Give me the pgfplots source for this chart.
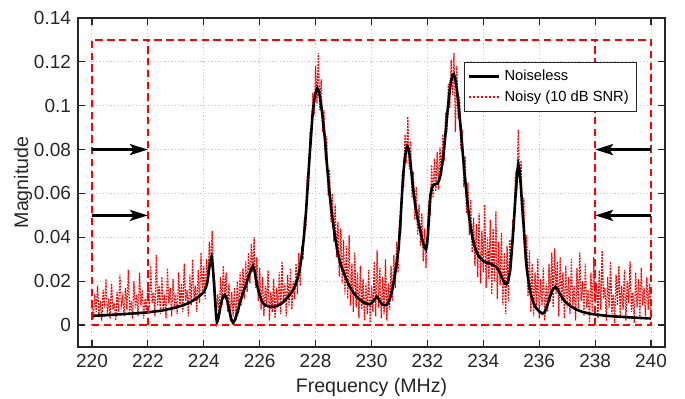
\documentclass[border=0pt]{standalone}
\usepackage{fontspec}
\setmainfont{Liberation Sans}
\usepackage{pgfplots}
\usepackage{pgfplotstable}
\pgfplotsset{compat=1.18}
\usetikzlibrary{arrows.meta}
\definecolor{axgray}{RGB}{38,38,38}
\definecolor{mred}{RGB}{255,0,0}

\pgfplotstableread{
f v
220.0 0.0042
220.5 0.0045
221.0 0.0049
221.5 0.0053
222.0 0.0058
222.5 0.0066
223.0 0.0080
223.3 0.0092
223.5 0.0103
223.7 0.0118
223.9 0.0138
224.0 0.0150
224.1 0.0180
224.15 0.0215
224.2 0.0265
224.25 0.0300
224.28 0.0310
224.32 0.0270
224.36 0.0200
224.4 0.0120
224.44 0.0045
224.47 0.0012
224.5 0.0020
224.55 0.0050
224.6 0.0085
224.65 0.0115
224.7 0.0132
224.75 0.0138
224.8 0.0128
224.85 0.0105
224.9 0.0075
224.95 0.0045
225.0 0.0020
225.05 0.0010
225.1 0.0020
225.2 0.0055
225.3 0.0105
225.4 0.0145
225.5 0.0180
225.6 0.0220
225.7 0.0255
225.76 0.0270
225.82 0.0245
225.9 0.0185
226.0 0.0135
226.1 0.0103
226.2 0.0090
226.37 0.0083
226.5 0.0084
226.64 0.0088
226.8 0.0100
226.94 0.0118
227.1 0.0142
227.24 0.0170
227.35 0.0210
227.42 0.0247
227.5 0.0310
227.58 0.0400
227.66 0.0520
227.72 0.0640
227.78 0.0760
227.84 0.0870
227.9 0.0974
227.98 0.1050
228.06 0.1080
228.12 0.1065
228.18 0.1020
228.25 0.0950
228.33 0.0853
228.4 0.0740
228.48 0.0626
228.55 0.0540
228.63 0.0459
228.7 0.0400
228.8 0.0323
228.9 0.0275
229.05 0.0224
229.2 0.0180
229.35 0.0148
229.5 0.0125
229.7 0.0103
229.85 0.0096
229.94 0.0095
230.02 0.0102
230.1 0.0115
230.19 0.0129
230.25 0.0120
230.31 0.0106
230.4 0.0094
230.48 0.0090
230.56 0.0094
230.66 0.0120
230.75 0.0165
230.84 0.0230
230.92 0.0300
230.97 0.0350
231.03 0.0460
231.09 0.0595
231.14 0.0690
231.19 0.0760
231.24 0.0800
231.28 0.0815
231.32 0.0805
231.36 0.0777
231.41 0.0720
231.46 0.0656
231.52 0.0590
231.58 0.0535
231.65 0.0485
231.72 0.0444
231.78 0.0410
231.84 0.0376
231.9 0.0355
231.95 0.0345
231.99 0.0370
232.02 0.0414
232.06 0.0500
232.11 0.0595
232.16 0.0625
232.2 0.0638
232.28 0.0642
232.35 0.0644
232.42 0.0660
232.47 0.0686
232.54 0.0740
232.6 0.0808
232.66 0.0890
232.72 0.0974
232.78 0.1050
232.84 0.1110
232.9 0.1140
232.95 0.1144
233.0 0.1120
233.05 0.1080
233.11 0.1010
233.17 0.0929
233.24 0.0820
233.32 0.0702
233.4 0.0600
233.48 0.0505
233.56 0.0435
233.65 0.0376
233.75 0.0335
233.87 0.0308
234.0 0.0292
234.1 0.0285
234.25 0.0279
234.35 0.0274
234.45 0.0266
234.53 0.0255
234.62 0.0232
234.69 0.0210
234.76 0.0192
234.82 0.0186
234.88 0.0195
234.96 0.0247
235.02 0.0340
235.08 0.0444
235.13 0.0545
235.18 0.0640
235.22 0.0705
235.25 0.0733
235.29 0.0710
235.34 0.0640
235.39 0.0540
235.44 0.0460
235.5 0.0340
235.56 0.0250
235.63 0.0190
235.7 0.0140
235.8 0.0100
235.88 0.0079
236.0 0.0062
236.12 0.0052
236.2 0.0060
236.3 0.0094
236.4 0.0135
236.48 0.0162
236.58 0.0174
236.65 0.0165
236.72 0.0147
236.84 0.0122
236.96 0.0102
237.1 0.0088
237.32 0.0071
237.55 0.0060
237.8 0.0052
238.2 0.0045
238.52 0.0041
239.0 0.0037
239.5 0.0033
240.0 0.0030
}\noiseless

\pgfplotstableread{
f v
220.00 0.009
220.05 0.003
220.10 0.014
220.15 0.006
220.20 0.018
220.25 0.004
220.30 0.011
220.35 0.002
220.40 0.016
220.45 0.008
220.50 0.021
220.55 0.005
220.60 0.012
220.65 0.003
220.70 0.019
220.75 0.007
220.80 0.010
220.85 0.002
220.90 0.015
220.95 0.006
221.00 0.023
221.05 0.009
221.10 0.013
221.15 0.004
221.20 0.017
221.25 0.007
221.30 0.025
221.35 0.005
221.40 0.011
221.45 0.003
221.50 0.020
221.55 0.008
221.60 0.014
221.65 0.004
221.70 0.024
221.75 0.009
221.80 0.016
221.85 0.003
221.90 0.012
221.95 0.006
222.00 0.019
222.05 0.008
222.10 0.027
222.15 0.010
222.20 0.015
222.25 0.004
222.30 0.032
222.35 0.009
222.40 0.018
222.45 0.005
222.50 0.022
222.55 0.007
222.60 0.014
222.65 0.003
222.70 0.026
222.75 0.010
222.80 0.017
222.85 0.004
222.90 0.021
222.95 0.009
223.00 0.013
223.05 0.005
223.10 0.024
223.15 0.008
223.20 0.019
223.25 0.006
223.30 0.028
223.35 0.011
223.40 0.016
223.45 0.004
223.50 0.023
223.55 0.009
223.60 0.030
223.65 0.012
223.70 0.018
223.75 0.006
223.80 0.025
223.85 0.010
223.90 0.033
223.95 0.014
224.00 0.027
224.05 0.012
224.10 0.030
224.15 0.019
224.20 0.038
224.25 0.026
224.30 0.043
224.35 0.024
224.40 0.019
224.45 0.005
224.50 0.014
224.55 0.003
224.60 0.022
224.65 0.009
224.70 0.027
224.75 0.012
224.80 0.024
224.85 0.006
224.90 0.019
224.95 0.002
225.00 0.015
225.05 0.004
225.10 0.017
225.15 0.002
225.20 0.020
225.25 0.006
225.30 0.024
225.35 0.009
225.40 0.026
225.45 0.012
225.50 0.029
225.55 0.015
225.60 0.033
225.65 0.019
225.70 0.037
225.75 0.024
225.80 0.040
225.85 0.017
225.90 0.031
225.95 0.011
226.00 0.026
226.05 0.007
226.10 0.022
226.15 0.004
226.20 0.018
226.25 0.009
226.30 0.025
226.35 0.002
226.40 0.015
226.45 0.006
226.50 0.021
226.55 0.003
226.60 0.017
226.65 0.008
226.70 0.024
226.75 0.005
226.80 0.029
226.85 0.010
226.90 0.019
226.95 0.004
227.00 0.023
227.05 0.009
227.10 0.026
227.15 0.007
227.20 0.020
227.25 0.012
227.30 0.028
227.35 0.014
227.40 0.033
227.45 0.018
227.50 0.036
227.55 0.030
227.60 0.049
227.65 0.044
227.70 0.068
227.75 0.063
227.80 0.088
227.85 0.082
227.90 0.106
227.95 0.096
228.00 0.118
228.05 0.101
228.10 0.124
228.15 0.098
228.20 0.112
228.25 0.088
228.30 0.098
228.35 0.075
228.40 0.086
228.45 0.059
228.50 0.071
228.55 0.047
228.60 0.060
228.65 0.038
228.70 0.055
228.75 0.031
228.80 0.047
228.85 0.022
228.90 0.044
228.95 0.019
229.00 0.039
229.05 0.014
229.10 0.036
229.15 0.012
229.20 0.041
229.25 0.009
229.30 0.028
229.35 0.006
229.40 0.033
229.45 0.008
229.50 0.024
229.55 0.003
229.60 0.027
229.65 0.007
229.70 0.021
229.75 0.002
229.80 0.019
229.85 0.005
229.90 0.025
229.95 0.001
230.00 0.018
230.05 0.006
230.10 0.029
230.15 0.004
230.20 0.034
230.25 0.008
230.30 0.026
230.35 0.003
230.40 0.022
230.45 0.005
230.50 0.030
230.55 0.002
230.60 0.019
230.65 0.007
230.70 0.027
230.75 0.011
230.80 0.032
230.85 0.017
230.90 0.038
230.95 0.024
231.00 0.047
231.05 0.042
231.10 0.069
231.15 0.063
231.20 0.087
231.25 0.074
231.30 0.095
231.35 0.071
231.40 0.084
231.45 0.058
231.50 0.070
231.55 0.048
231.60 0.063
231.65 0.041
231.70 0.055
231.75 0.036
231.80 0.051
231.85 0.029
231.90 0.044
231.95 0.026
232.00 0.045
232.05 0.057
232.10 0.050
232.15 0.073
232.20 0.058
232.25 0.076
232.30 0.061
232.35 0.079
232.40 0.062
232.45 0.081
232.50 0.068
232.55 0.087
232.60 0.075
232.65 0.097
232.70 0.088
232.75 0.110
232.80 0.099
232.85 0.121
232.90 0.105
232.95 0.124
233.00 0.088
233.05 0.118
233.10 0.094
233.15 0.104
233.20 0.080
233.25 0.089
233.30 0.063
233.35 0.077
233.40 0.051
233.45 0.065
233.50 0.041
233.55 0.057
233.60 0.033
233.65 0.049
233.70 0.027
233.75 0.046
233.80 0.022
233.85 0.051
233.90 0.019
233.95 0.043
234.00 0.024
234.05 0.055
234.10 0.017
234.15 0.040
234.20 0.021
234.25 0.048
234.30 0.014
234.35 0.044
234.40 0.020
234.45 0.052
234.50 0.012
234.55 0.038
234.60 0.018
234.65 0.042
234.70 0.009
234.75 0.033
234.80 0.005
234.85 0.036
234.90 0.011
234.95 0.039
235.00 0.027
235.05 0.048
235.10 0.043
235.15 0.070
235.20 0.061
235.25 0.089
235.30 0.066
235.35 0.075
235.40 0.047
235.45 0.058
235.50 0.029
235.55 0.041
235.60 0.013
235.65 0.034
235.70 0.006
235.75 0.028
235.80 0.004
235.85 0.024
235.90 0.007
235.95 0.030
236.00 0.003
236.05 0.021
236.10 0.009
236.15 0.026
236.20 0.002
236.25 0.019
236.30 0.006
236.35 0.028
236.40 0.011
236.45 0.033
236.50 0.008
236.55 0.035
236.60 0.014
236.65 0.029
236.70 0.004
236.75 0.031
236.80 0.010
236.85 0.024
236.90 0.003
236.95 0.027
237.00 0.008
237.05 0.022
237.10 0.005
237.15 0.030
237.20 0.009
237.25 0.018
237.30 0.002
237.35 0.026
237.40 0.007
237.45 0.033
237.50 0.011
237.55 0.020
237.60 0.004
237.65 0.028
237.70 0.008
237.75 0.016
237.80 0.001
237.85 0.024
237.90 0.006
237.95 0.031
238.00 0.010
238.05 0.019
238.10 0.003
238.15 0.025
238.20 0.007
238.25 0.034
238.30 0.012
238.35 0.017
238.40 0.002
238.45 0.022
238.50 0.008
238.55 0.029
238.60 0.005
238.65 0.014
238.70 0.001
238.75 0.023
238.80 0.009
238.85 0.027
238.90 0.004
238.95 0.018
239.00 0.007
239.05 0.025
239.10 0.002
239.15 0.020
239.20 0.010
239.25 0.029
239.30 0.006
239.35 0.015
239.40 0.001
239.45 0.024
239.50 0.008
239.55 0.021
239.60 0.003
239.65 0.026
239.70 0.009
239.75 0.017
239.80 0.004
239.85 0.022
239.90 0.007
239.95 0.019
240.00 0.005
}\noisy

\begin{document}
\begin{tikzpicture}
\begin{axis}[
  scale only axis,
  width=293.5pt, height=164.5pt,
  xmin=219.5, xmax=240.5,
  ymin=-0.01, ymax=0.14,
  xtick={220,222,...,240},
  ytick={0,0.02,0.04,0.06,0.08,0.1,0.12,0.14},
  scaled y ticks=false,
  yticklabel style={/pgf/number format/fixed, /pgf/number format/precision=2},
  xticklabel style={/pgf/number format/1000 sep={}},
  /pgf/number format/assume math mode=true,
  tick label style={font=\fontsize{9.5}{11}\selectfont, text=axgray},
  label style={font=\fontsize{9.8}{11}\selectfont, text=axgray},
  xlabel={Frequency (MHz)},
  ylabel={Magnitude},
  ylabel shift=-6pt,
  xlabel shift=-1.5pt,
  axis line style={axgray, line width=0.6pt},
  tick style={axgray, line width=0.6pt},
  major tick length=3.5pt,
  tick align=inside,
  xtick pos=both, ytick pos=both,
  grid=major,
  major grid style={black!22, line width=0.5pt, dash pattern=on 0.6pt off 1.2pt},
  legend style={at={(0.952,0.867)}, anchor=north east, draw=none, fill=none,
    font=\fontsize{7.35}{9}\selectfont, inner sep=1.8pt, row sep=-0.5pt,
    append after command={\pgfextra{}}},
  legend cell align=left,
  every axis legend/.append style={draw=axgray, line width=0.5pt, fill=white},
]
\addplot[mred, line width=0.6pt, dash pattern=on 0.9pt off 0.6pt, forget plot] table[x=f, y=v] {\noisy};
\addplot[black, line width=1.3pt,
  legend image code/.code={\draw[black, line width=1.3pt] (0pt,0pt) -- (15pt,0pt);}] table[x=f, y=v] {\noiseless};
\addlegendentry{Noiseless}
\addlegendimage{legend image code/.code={\draw[draw=mred, line width=0.9pt, dash pattern=on 1.1pt off 0.9pt] (0pt,0pt) -- (15pt,0pt);}}
\addlegendentry{Noisy (10 dB SNR)}
% red dashed frames
\addplot[mred, line width=1pt, dash pattern=on 3.7pt off 2.2pt, forget plot] coordinates {(220,0) (240,0) (240,0.13) (220,0.13) (220,0)};
\addplot[mred, line width=1pt, dash pattern=on 3.7pt off 2.2pt, forget plot] coordinates {(222,0) (222,0.13)};
\addplot[mred, line width=1pt, dash pattern=on 3.7pt off 2.2pt, forget plot] coordinates {(238,0) (238,0.13)};
% arrows
\addplot[black, line width=1.4pt, -{Stealth[length=9pt,width=5.5pt,inset=2pt]}, forget plot] coordinates {(220,0.08) (222,0.08)};
\addplot[black, line width=1.4pt, -{Stealth[length=9pt,width=5.5pt,inset=2pt]}, forget plot] coordinates {(220,0.05) (222,0.05)};
\addplot[black, line width=1.4pt, -{Stealth[length=9pt,width=5.5pt,inset=2pt]}, forget plot] coordinates {(240,0.08) (238,0.08)};
\addplot[black, line width=1.4pt, -{Stealth[length=9pt,width=5.5pt,inset=2pt]}, forget plot] coordinates {(240,0.05) (238,0.05)};
\end{axis}
\pgfresetboundingbox
\path[use as bounding box] ([shift={(-39pt,-26pt)}]current axis.south west) rectangle ([shift={(10pt,9pt)}]current axis.north east);
\end{tikzpicture}
\end{document}
